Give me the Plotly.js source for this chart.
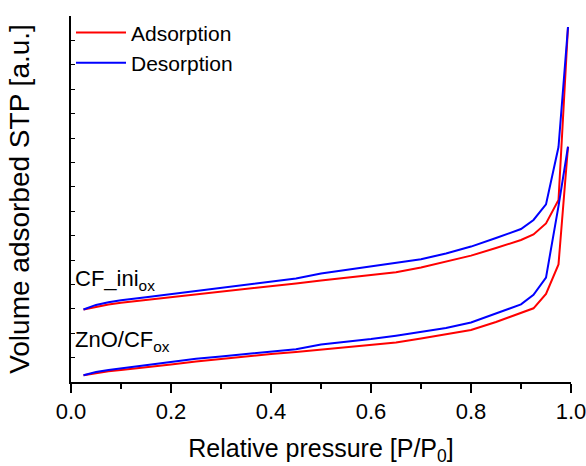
<!DOCTYPE html>
<html>
<head>
<meta charset="utf-8">
<script src="https://cdn.plot.ly/plotly-3.0.1.min.js"></script>
<style>html,body{margin:0;padding:0;background:#fff}</style>
</head>
<body>
<div id="chart" style="width:586px;height:466px"></div>
<script>
// Relative pressure P/P0
const pressure = [0.025, 0.05, 0.075, 0.1, 0.15, 0.2, 0.25, 0.3, 0.35, 0.4, 0.45, 0.5,
                  0.55, 0.6, 0.65, 0.7, 0.75, 0.8, 0.85, 0.9, 0.925, 0.95, 0.975, 0.994];

// CF_ini_ox sample (upper pair), volume adsorbed [a.u.]
const cfIniAdsorption = [2.97, 3.09, 3.18, 3.25, 3.36, 3.47, 3.58, 3.69, 3.81, 3.92, 4.04, 4.16,
                         4.27, 4.39, 4.50, 4.69, 4.95, 5.18, 5.49, 5.82, 6.05, 6.50, 7.46, 14.55];
const cfIniDesorption = [2.97, 3.16, 3.27, 3.35, 3.47, 3.60, 3.72, 3.84, 3.98, 4.11, 4.24, 4.45,
                         4.59, 4.74, 4.90, 5.03, 5.27, 5.55, 5.90, 6.27, 6.64, 7.28, 9.63, 14.55];

// ZnO/CF_ox sample (lower pair)
const znoAdsorption = [0.28, 0.37, 0.44, 0.49, 0.59, 0.72, 0.84, 0.95, 1.05, 1.15, 1.23, 1.33,
                       1.42, 1.52, 1.62, 1.78, 1.95, 2.13, 2.46, 2.85, 3.02, 3.61, 4.82, 9.64];
const znoDesorption = [0.28, 0.41, 0.49, 0.56, 0.70, 0.82, 0.95, 1.05, 1.14, 1.23, 1.34, 1.54,
                       1.64, 1.76, 1.90, 2.04, 2.21, 2.44, 2.81, 3.18, 3.57, 4.28, 7.21, 9.64];

const seriesNames = ['Adsorption', 'Desorption'];
const sampleLabels = ['CF_ini<sub>ox</sub>', 'ZnO/CF<sub>ox</sub>'];
const sampleLabelY = [4.2, 1.67];
const xTickVals = [0, 0.2, 0.4, 0.6, 0.8, 1.0];
const xTickText = ['0.0', '0.2', '0.4', '0.6', '0.8', '1.0'];

const RED = '#ff0000', BLUE = '#0000ff';
const FONT = 'Liberation Sans, Arial, Helvetica, sans-serif';

const traces = [
  {x: pressure, y: cfIniAdsorption, name: seriesNames[0], legendgroup: 'ads', mode: 'lines',
   line: {color: RED, width: 2}},
  {x: pressure, y: znoAdsorption, name: seriesNames[0], legendgroup: 'ads', showlegend: false, mode: 'lines',
   line: {color: RED, width: 2}},
  {x: pressure, y: cfIniDesorption, name: seriesNames[1], legendgroup: 'des', mode: 'lines',
   line: {color: BLUE, width: 2}},
  {x: pressure, y: znoDesorption, name: seriesNames[1], legendgroup: 'des', showlegend: false, mode: 'lines',
   line: {color: BLUE, width: 2}}
];

const layout = {
  width: 586, height: 466,
  margin: {l: 71, r: 15, t: 16, b: 84},
  paper_bgcolor: '#fff', plot_bgcolor: '#fff',
  font: {family: FONT, color: '#000', size: 21},
  showlegend: true,
  legend: {x: 0, y: 1.01, xanchor: 'left', yanchor: 'top', bgcolor: 'rgba(0,0,0,0)',
           font: {size: 21, family: FONT}, itemwidth: 50, tracegroupgap: 0},
  xaxis: {
    range: [0, 1], showgrid: false, zeroline: false,
    showline: true, linecolor: '#000', linewidth: 2,
    ticks: 'outside', ticklen: 9, tickwidth: 1.5, tickcolor: '#000',
    tickvals: xTickVals, ticktext: xTickText, ticklabeloverflow: 'allow',
    tickfont: {size: 22, family: FONT},
    minor: {dtick: 0.1, tick0: 0, ticks: 'outside', ticklen: 5, tickwidth: 1.5, tickcolor: '#000', showgrid: false},
    title: {text: 'Relative pressure [P/P<sub>0</sub>]', font: {size: 25, family: FONT}, standoff: 17}
  },
  xaxis2: {
    range: [0, 1], overlaying: 'x', side: 'top', anchor: 'y', showgrid: false, zeroline: false,
    showline: true, linecolor: '#000', linewidth: 2,
    ticks: 'outside', ticklen: 3, tickwidth: 1, tickcolor: '#000',
    tickvals: [0.25, 0.5, 0.75], showticklabels: false
  },
  yaxis: {
    range: [0, 15], showgrid: false, zeroline: false,
    showline: true, linecolor: '#000', linewidth: 2,
    ticks: 'inside', ticklen: 4, tickwidth: 1, tickcolor: '#000',
    tick0: 0, dtick: 1, showticklabels: false,
    title: {text: 'Volume adsorbed STP [a.u.]', font: {size: 28, family: FONT}, standoff: 31}
  },
  yaxis2: {
    range: [0, 15], overlaying: 'y', side: 'right', anchor: 'x', showgrid: false, zeroline: false,
    showline: true, linecolor: '#000', linewidth: 2,
    ticks: 'outside', ticklen: 3, tickwidth: 1, tickcolor: '#000',
    tick0: 1.4, dtick: 2, showticklabels: false
  },
  annotations: sampleLabels.map((t, i) => ({
    text: t, xref: 'paper', yref: 'y', x: 0.004, y: sampleLabelY[i],
    xanchor: 'left', yanchor: 'middle', showarrow: false,
    font: {size: 22, family: FONT, color: '#000'}
  }))
};

Plotly.newPlot('chart', traces, layout, {displayModeBar: false, staticPlot: true});
</script>
</body>
</html>
